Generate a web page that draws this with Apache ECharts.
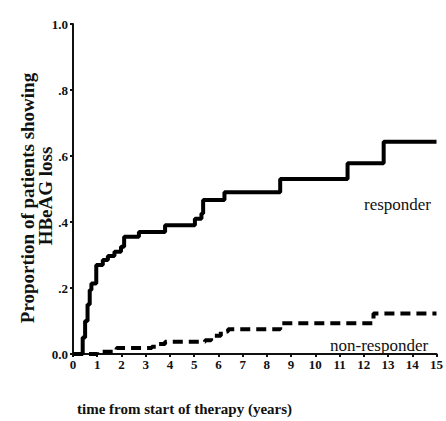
<!DOCTYPE html>
<html>
<head>
<meta charset="utf-8">
<script src="https://cdn.jsdelivr.net/npm/echarts@6/dist/echarts.min.js"></script>
<style>
html, body { margin: 0; padding: 0; background: #fff; font-family: "Liberation Serif", serif; }
#main { width: 446px; height: 421px; }
</style>
</head>
<body>
<div id="main"></div>
<script>
// 数据：时间（年）与累计比例
var responderTime = [0, 0.3, 0.4, 0.5, 0.6, 0.69, 0.76, 0.96, 1.23, 1.44, 1.71, 1.98, 2.11, 2.72, 3.8, 5.03, 5.3, 5.37, 6.25, 8.55, 11.33, 12.82, 15];
var responderValue = [0, 0, 0.05, 0.1, 0.15, 0.194, 0.214, 0.27, 0.285, 0.297, 0.31, 0.325, 0.355, 0.37, 0.39, 0.41, 0.426, 0.467, 0.49, 0.53, 0.578, 0.643, 0.643];
var nonResponderTime = [0, 1.0, 1.8, 3.25, 3.55, 3.8, 5.45, 5.7, 6.1, 6.4, 8.55, 12.4, 15];
var nonResponderValue = [0, 0.007, 0.018, 0.022, 0.03, 0.037, 0.042, 0.055, 0.068, 0.075, 0.093, 0.123, 0.123];
var yTickLabels = { '0': '0.0', '0.2': '.2', '0.4': '.4', '0.6': '.6', '0.8': '.8', '1': '1.0' };

function pairs(t, v) {
	var out = [];
	for (var i = 0; i < t.length; i++) out.push([t[i], v[i]]);
	return out;
}

var serif = '"Liberation Serif", "DejaVu Serif", serif';
// 用 svg 渲染
var myChart = echarts.init(document.getElementById('main'), null, { renderer: 'svg' });
var option = {
	animation: false,
	textStyle: { fontFamily: serif },
	grid: { left: 73, right: 4, top: 24, bottom: 67 },
	title: {
		text: 'time from start of therapy (years)',
		left: 72,
		top: 396,
		textStyle: { fontFamily: serif, fontSize: 15, fontWeight: 'bold', color: '#111' }
	},
	xAxis: {
		type: 'value',
		min: 0,
		max: 15,
		interval: 1,
		splitLine: { show: false },
		axisLine: { lineStyle: { color: '#111', width: 2 } },
		axisTick: { length: 3, lineStyle: { color: '#111', width: 2 } },
		axisLabel: { fontFamily: serif, fontSize: 13, fontWeight: 'bold', color: '#111', margin: 4 }
	},
	yAxis: {
		type: 'value',
		min: 0,
		max: 1,
		interval: 0.2,
		splitLine: { show: false },
		axisLine: { show: true, lineStyle: { color: '#111', width: 2 } },
		axisTick: { show: true, length: 3, lineStyle: { color: '#111', width: 2 } },
		axisLabel: {
			fontFamily: serif, fontSize: 13, fontWeight: 'bold', color: '#111', margin: 5,
			formatter: function (v) { return yTickLabels[String(v)]; }
		}
	},
	graphic: [
		// 纵轴标题，两行分开写
		{
			type: 'text', x: 27, y: 198, rotation: Math.PI / 2,
			style: {
				text: 'Proportion of patients showing',
				fontFamily: serif, fontSize: 19, fontWeight: 'bold',
				fill: '#111', align: 'center', verticalAlign: 'middle'
			}
		},
		{
			type: 'text', x: 45, y: 196, rotation: Math.PI / 2,
			style: {
				text: 'HBeAG loss',
				fontFamily: serif, fontSize: 19, fontWeight: 'bold',
				fill: '#111', align: 'center', verticalAlign: 'middle'
			}
		},
		{ type: 'text', left: 364, top: 196, style: { text: 'responder', fontFamily: serif, fontSize: 17, fill: '#111' } },
		{ type: 'text', left: 330, top: 337, style: { text: 'non-responder', fontFamily: serif, fontSize: 17, fill: '#111' } }
	],
	series: [
		{
			name: 'responder',
			type: 'line',
			step: 'end',
			showSymbol: false,
			data: pairs(responderTime, responderValue),
			lineStyle: { color: '#000', width: 4 }
		},
		{
			name: 'non-responder',
			type: 'line',
			step: 'end',
			showSymbol: false,
			data: pairs(nonResponderTime, nonResponderValue),
			lineStyle: { color: '#000', width: 4, type: [10, 6] }
		}
	]
};
myChart.setOption(option);
</script>
</body>
</html>
